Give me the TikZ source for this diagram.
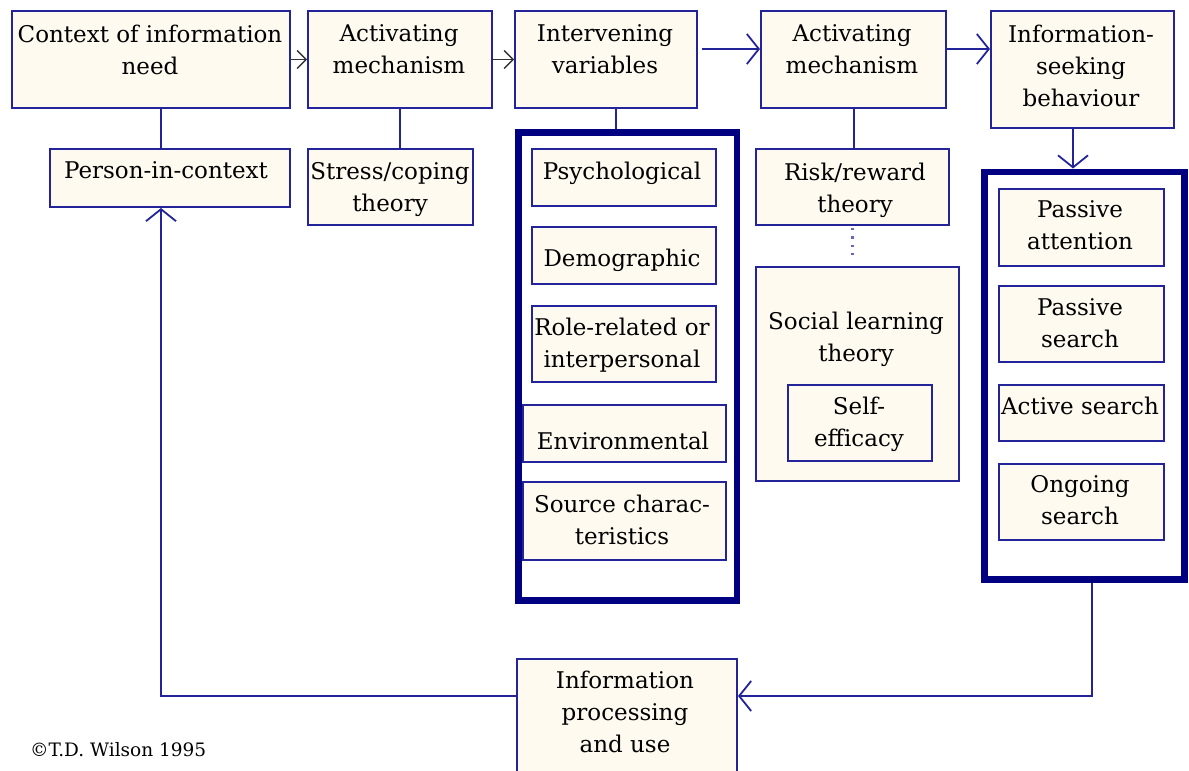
\documentclass[tikz,border=0pt]{standalone}
\usepackage{fontspec}
\setmainfont{DejaVu Serif}
\usetikzlibrary{arrows.meta}
\definecolor{navy}{HTML}{24249A}
\definecolor{deepnavy}{HTML}{000080}
\definecolor{cream}{HTML}{FEFAF0}
\begin{document}
\begin{tikzpicture}[x=1pt,y=-1pt,
 box/.style={draw=navy, line width=2pt, fill=cream, anchor=north west, inner sep=0pt},
 frame/.style={draw=deepnavy, line width=6.5pt, anchor=north west, inner sep=0pt},
 lbl/.style={anchor=north, align=center, font=\fontsize{23}{32}\selectfont, inner sep=0pt, yshift=-6pt},
 link/.style={draw=navy, line width=2pt},
 arr/.style={link, -{Straight Barb[length=12pt,width=30pt,line width=1.8pt]}},
 sarr/.style={draw=black!80, line width=1.4pt, -{Straight Barb[length=9pt,width=18pt,line width=1.3pt]}},
]
\useasboundingbox (0,0) rectangle (1189,771);
\clip (0,0) rectangle (1189,771);
% top row
\node[box, minimum width=278pt, minimum height=97pt] (ctx) at (11,10) {};
\node[box, minimum width=184pt, minimum height=97pt] (act1) at (307,10) {};
\node[box, minimum width=182pt, minimum height=97pt] (intv) at (514,10) {};
\node[box, minimum width=185pt, minimum height=97pt] (act2) at (760,10) {};
\node[box, minimum width=183pt, minimum height=117pt] (isb) at (990,10) {};
% second row
\node[box, minimum width=240pt, minimum height=58pt] (pic) at (49,148) {};
\node[box, minimum width=165pt, minimum height=76pt] (stress) at (307,148) {};
\node[frame, minimum width=218.5pt, minimum height=468pt] (frameL) at (515,129) {};
\node[box, minimum width=184pt, minimum height=57pt] (psy) at (531,148) {};
\node[box, minimum width=184pt, minimum height=57pt] (demo) at (531,226) {};
\node[box, minimum width=184pt, minimum height=76pt] (role) at (531,305) {};
\node[box, minimum width=203pt, minimum height=57pt] (env) at (522,404) {};
\node[box, minimum width=203pt, minimum height=78pt] (src) at (522,481) {};
\node[box, minimum width=193pt, minimum height=76pt] (risk) at (755,148) {};
\node[box, minimum width=203pt, minimum height=214pt] (slt) at (755,266) {};
\node[box, minimum width=144pt, minimum height=76pt] (self) at (787,384) {};
\node[frame, minimum width=200pt, minimum height=407.5pt] (frameR) at (981,168.5) {};
\node[box, minimum width=165pt, minimum height=77pt] (pa) at (998,188) {};
\node[box, minimum width=165pt, minimum height=76pt] (ps) at (998,285) {};
\node[box, minimum width=165pt, minimum height=56pt] (as) at (998,384) {};
\node[box, minimum width=165pt, minimum height=76pt] (os) at (998,463) {};
\node[box, minimum width=220pt, minimum height=130pt] (ipu) at (516,658) {};
% labels
\node[lbl] (ctxT) at (150,18.5) {Context of information\\need};
\node[lbl] (act1T) at (399,18.5) {Activating\\mechanism};
\node[lbl] (intvT) at (605,18.5) {Intervening\\variables};
\node[lbl] (act2T) at (852,18.5) {Activating\\mechanism};
\node[lbl] (isbT) at (1081,18.5) {Information-\\seeking\\behaviour};
\node[lbl] (picT) at (166,155.5) {Person-in-context};
\node[lbl] (stressT) at (390,156.5) {Stress/coping\\theory};
\node[lbl] (psyT) at (622,155.5) {Psychological};
\node[lbl] (demoT) at (622,242.5) {Demographic};
\node[lbl] (roleT) at (622,311.5) {Role-related or\\interpersonal};
\node[lbl] (envT) at (623,425.5) {Environmental};
\node[lbl] (srcT) at (622,488.5) {Source charac-\\teristics};
\node[lbl] (riskT) at (855,156.5) {Risk/reward\\theory};
\node[lbl] (sltT) at (856,305.5) {Social learning\\theory};
\node[lbl] (selfT) at (859,390.5) {Self-\\efficacy};
\node[lbl] (paT) at (1080,194.5) {Passive\\attention};
\node[lbl] (psT) at (1080,292.5) {Passive\\search};
\node[lbl] (asT) at (1080,390.5) {Active search};
\node[lbl] (osT) at (1080,469.5) {Ongoing\\search};
\node[lbl] (ipuT) at (625,664.5) {Information\\processing\\and use};
\node[anchor=west, inner sep=0pt, font=\fontsize{18.5}{22}\selectfont] (copy) at (30,750) {\textcopyright T.D. Wilson 1995};
% connectors
\draw[sarr] (ctx.east) -- (act1.west);
\draw[sarr] (act1.east) -- (intv.west);
\draw[arr, shorten <=4pt] ([yshift=10.5pt]intv.east) -- ([yshift=10.5pt]intv.east -| act2.west);
\draw[arr] ([yshift=10.5pt]act2.east) -- ([yshift=10.5pt]act2.east -| isb.west);
\draw[link] ([xshift=10pt]ctx.south) -- ([xshift=10pt]ctx.south |- pic.north);
\draw[link] (act1.south) -- (act1.south |- stress.north);
\draw[link] ([xshift=10pt]intv.south) -- ([xshift=10pt]intv.south |- frameL.north);
\draw[link] (act2.south) -- (act2.south |- risk.north);
\draw[draw=navy!70, line width=2.2pt, dash pattern=on 2.2pt off 6.2pt, shorten <=2pt, shorten >=5pt] (risk.south) -- (risk.south |- slt.north);
\draw[arr] ([xshift=-9.5pt]isb.south) -- ([xshift=-9.5pt]isb.south |- frameR.north);
\draw[arr] ([xshift=7.5pt]frameR.south) |- ([yshift=28pt]ipu.east);
\draw[arr] ([yshift=28pt]ipu.west) -| ([xshift=-9pt]pic.south);
\end{tikzpicture}
\end{document}
